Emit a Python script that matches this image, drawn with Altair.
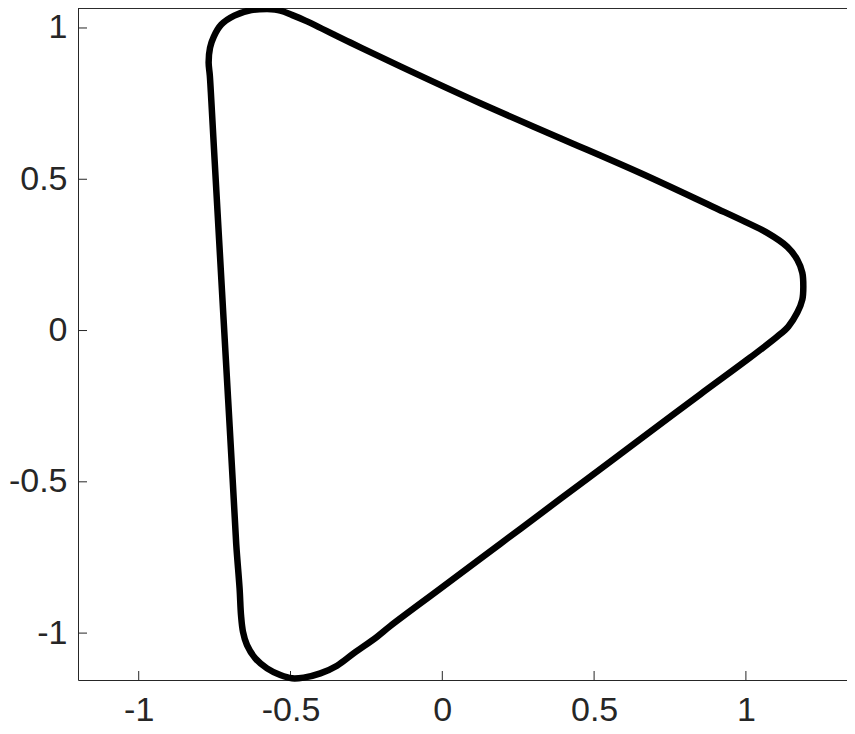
import altair as alt
import pandas as pd

# Curve points (data units), traced clockwise from the top
curve_x = [-0.5764, -0.5336, -0.4941, -0.4513, -0.3030, -0.1383, 0.1252, 0.3887,
           0.6522, 0.8926, 0.9980, 1.0705, 1.1364, 1.1693, 1.1858, 1.1891,
           1.1858, 1.1693, 1.1397, 1.1034, 1.0145, 0.8498, 0.6522, 0.5204,
           0.3887, 0.1910, -0.0066, -0.1713, -0.2151, -0.2922, -0.3468, -0.4018,
           -0.4568, -0.4951, -0.5336, -0.5774, -0.6159, -0.6433, -0.6565, -0.6630,
           -0.6677, -0.6789, -0.6907, -0.7055, -0.7204, -0.7352, -0.7500, -0.7609,
           -0.7658, -0.7697, -0.7650, -0.7526, -0.7279, -0.6851, -0.6291, -0.5764]
curve_y = [1.0623, 1.0573, 1.0425, 1.0244, 0.9519, 0.8729, 0.7510, 0.6357,
           0.5204, 0.4084, 0.3590, 0.3228, 0.2767, 0.2339, 0.1910, 0.1449,
           0.1021, 0.0593, 0.0132, -0.0198, -0.0889, -0.2108, -0.3590, -0.4578,
           -0.5567, -0.7049, -0.8531, -0.9766, -1.0122, -1.0672, -1.1077, -1.1331,
           -1.1472, -1.1495, -1.1387, -1.1166, -1.0837, -1.0399, -0.9957, -0.9410,
           -0.8531, -0.7049, -0.4908, -0.2273, 0.0362, 0.2997, 0.5632, 0.7609,
           0.8432, 0.8860, 0.9350, 0.9717, 1.0112, 1.0408, 1.0590, 1.0623]

x_ticks = [-1, -0.5, 0, 0.5, 1]
y_ticks = [-1, -0.5, 0, 0.5, 1]

x_domain = [-1.2, 1.333]
y_domain = [-1.155, 1.066]

W, H = 769, 672
AX = "#262626"
FONT = "Liberation Sans"

df = pd.DataFrame({"x": curve_x, "y": curve_y, "i": list(range(len(curve_x)))})
xt = pd.DataFrame({"v": x_ticks})
yt = pd.DataFrame({"v": y_ticks})

label_expr = "datum.value < 0 ? '-' + format(-datum.value, '') : format(datum.value, '')"

xs = alt.Scale(domain=x_domain, nice=False, zero=False)
ys = alt.Scale(domain=y_domain, nice=False, zero=False)

line = alt.Chart(df).mark_line(color="black", strokeWidth=6.5, strokeJoin="round",
                               strokeCap="round", interpolate="catmull-rom").encode(
    x=alt.X("x:Q", scale=xs, axis=alt.Axis(values=x_ticks, title=None, grid=False,
            ticks=False, tickSize=0, labelPadding=13, labelFontSize=34, labelFont=FONT,
            labelColor=AX, domainColor=AX, domainWidth=1, labelExpr=label_expr)),
    y=alt.Y("y:Q", scale=ys, axis=alt.Axis(values=y_ticks, title=None, grid=False,
            ticks=False, tickSize=0, labelPadding=11, labelFontSize=34, labelFont=FONT,
            labelColor=AX, domainColor=AX, domainWidth=1, labelExpr=label_expr)),
    order="i:Q",
)

xtick = alt.Chart(xt).mark_rule(color=AX, strokeWidth=1).encode(
    x=alt.X("v:Q", scale=xs), y=alt.value(H), y2=alt.value(H - 9))
ytick = alt.Chart(yt).mark_rule(color=AX, strokeWidth=1).encode(
    y=alt.Y("v:Q", scale=ys), x=alt.value(0), x2=alt.value(9))
topline = alt.Chart(xt).mark_rule(color=AX, strokeWidth=1).encode(
    x=alt.value(0), x2=alt.value(W), y=alt.value(0))

chart = alt.layer(xtick, ytick, topline, line).properties(
    width=W, height=H, autosize=alt.AutoSizeParams(type="none"),
    padding={"left": 70, "top": 0, "right": 0, "bottom": 46},
    background="white",
).configure_view(strokeWidth=0)

chart.save("out.html", embed_options={"renderer": "svg", "actions": False})
